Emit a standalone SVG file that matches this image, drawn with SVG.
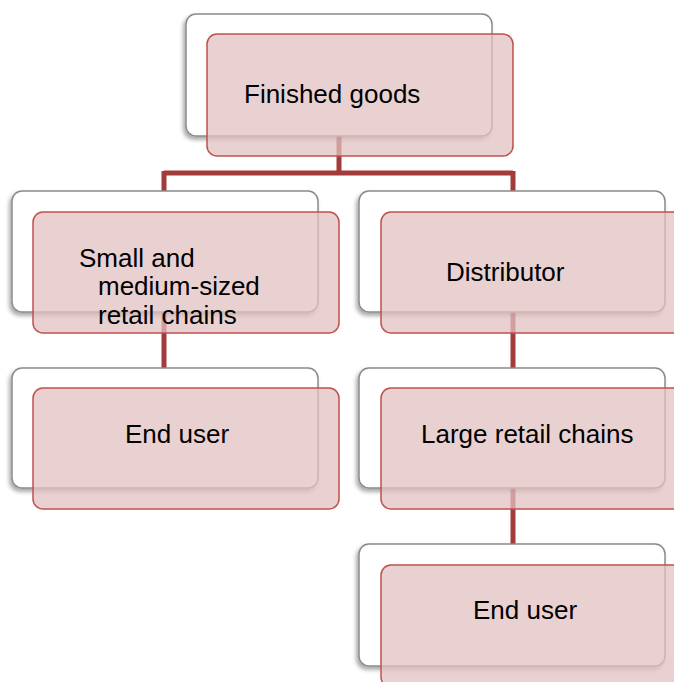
<svg xmlns="http://www.w3.org/2000/svg" width="674" height="682" viewBox="0 0 674 682">
<defs>
<filter id="sh" x="-10%" y="-10%" width="120%" height="130%">
<feDropShadow dx="-2" dy="3" stdDeviation="2" flood-color="#000" flood-opacity="0.35"/>
</filter>
<style>
.back{fill:#fff;stroke:#8a8a8a;stroke-width:1.5;filter:url(#sh)}
.front{fill:#e2c2c2;fill-opacity:0.75;stroke:#c0504d;stroke-width:1.5}
.conn{fill:none;stroke:#a33b3b;stroke-width:5}
text{font-family:"Liberation Sans",Arial,sans-serif;font-size:26px;fill:#000}
</style>
</defs>
<rect width="674" height="682" fill="#fff"/>
<g id="connectors">
<path class="conn" d="M339,136 V173 M164,173 H513 M164,171 V191 M513,171 V191"/>
<path class="conn" d="M164,312 V368"/>
<path class="conn" d="M513,312 V368"/>
<path class="conn" d="M513,488 V544"/>
</g>
<g id="node-finished-goods">
<rect class="back" x="186" y="14" width="306" height="122" rx="10"/>
<rect class="front" x="207" y="34" width="306" height="122" rx="10"/>
<text x="244" y="103">Finished goods</text>
</g>
<g id="node-small-medium">
<rect class="back" x="12" y="191" width="306" height="121" rx="10"/>
<rect class="front" x="33" y="212" width="306" height="121" rx="10"/>
<text x="79" y="267">Small and</text>
<text x="98" y="295">medium-sized</text>
<text x="98" y="324">retail chains</text>
</g>
<g id="node-end-user-left">
<rect class="back" x="12" y="368" width="306" height="120" rx="10"/>
<rect class="front" x="33" y="388" width="306" height="121" rx="10"/>
<text x="125" y="443">End user</text>
</g>
<g id="node-distributor">
<rect class="back" x="359" y="191" width="306" height="121" rx="10"/>
<rect class="front" x="381" y="212" width="306" height="121" rx="10"/>
<text x="446" y="281">Distributor</text>
</g>
<g id="node-large-retail">
<rect class="back" x="359" y="368" width="306" height="120" rx="10"/>
<rect class="front" x="381" y="388" width="306" height="121" rx="10"/>
<text x="421" y="443">Large retail chains</text>
</g>
<g id="node-end-user-right">
<rect class="back" x="359" y="544" width="306" height="122" rx="10"/>
<rect class="front" x="381" y="565" width="306" height="122" rx="10"/>
<text x="473" y="619">End user</text>
</g>
</svg>
